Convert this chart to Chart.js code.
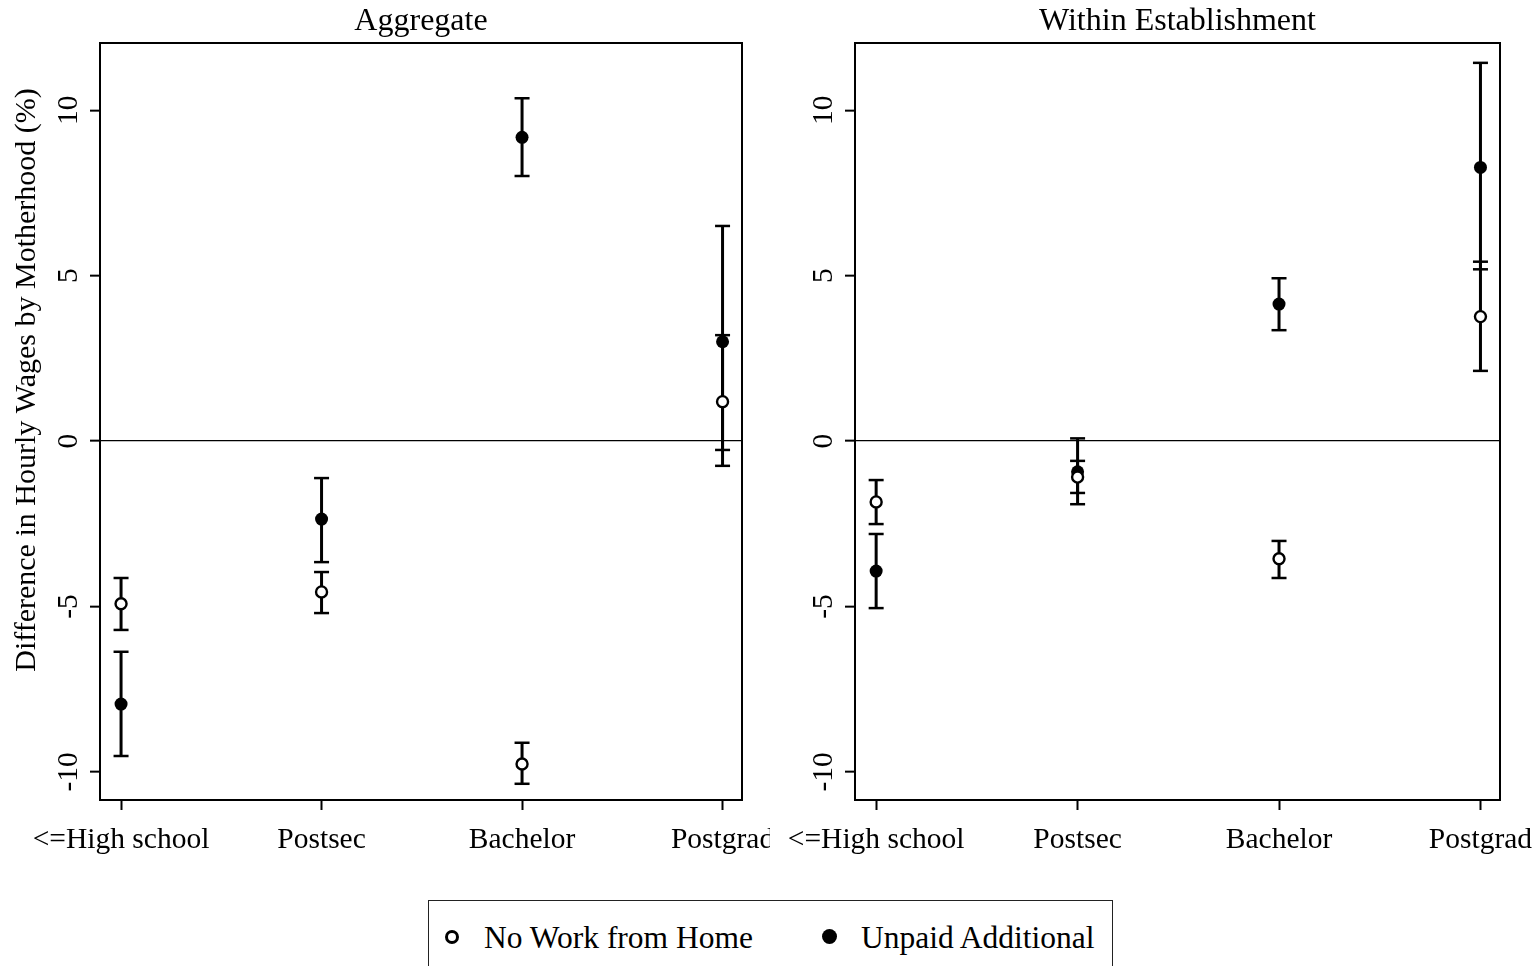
<!DOCTYPE html>
<html>
<head>
<meta charset="utf-8">
<script src="https://cdn.jsdelivr.net/npm/chart.js@4.4.1/dist/chart.umd.min.js"></script>
<style>
  body { margin: 0; background: #fff; width: 1538px; height: 966px; overflow: hidden; position: relative; }
  canvas { position: absolute; top: 0; }
  #legend {
    position: absolute; left: 428px; top: 900px; width: 685px; height: 90px;
    border: 1.5px solid #222; box-sizing: border-box;
    font-family: 'Liberation Serif', 'Times New Roman', serif; font-size: 31.5px; color: #000;
  }
  .item { position: absolute; top: 19px; line-height: 36px; }
  .dot { position: absolute; border-radius: 50%; box-sizing: border-box; }
</style>
</head>
<body>
<canvas id="agg" width="770" height="880" style="left:0"></canvas>
<canvas id="est" width="765" height="880" style="left:773px"></canvas>
<div id="legend">
  <span class="dot" style="left:16px;top:29px;width:14px;height:14px;border:3px solid #000;background:#fff"></span>
  <span class="item" style="left:55px">No Work from Home</span>
  <span class="dot" style="left:393px;top:28px;width:15px;height:15px;background:#000"></span>
  <span class="item" style="left:432px">Unpaid Additional</span>
</div>
<script>
const categories = ['<=High school', 'Postsec', 'Bachelor', 'Postgrad'];
const yTicks = [-10, -5, 0, 5, 10];

// Aggregate
const aggNoWfh = [-4.92, -4.56, -9.76, 1.19];
const aggNoWfhLo = [-5.71, -5.20, -10.36, -0.75];
const aggNoWfhHi = [-4.14, -3.96, -9.12, 3.20];
const aggUnpaid = [-7.95, -2.36, 9.18, 3.00];
const aggUnpaidLo = [-9.52, -3.66, 8.01, -0.27];
const aggUnpaidHi = [-6.37, -1.12, 10.36, 6.50];

// Within establishment
const estNoWfh = [-1.84, -1.09, -3.56, 3.76];
const estNoWfhLo = [-2.51, -1.57, -4.14, 2.12];
const estNoWfhHi = [-1.18, -0.60, -3.02, 5.42];
const estUnpaid = [-3.93, -0.93, 4.14, 8.27];
const estUnpaidLo = [-5.05, -1.91, 3.35, 5.19];
const estUnpaidHi = [-2.81, 0.08, 4.92, 11.43];

const yLabel = 'Difference in Hourly Wages by Motherhood (%)';
const serif = "'Liberation Serif', 'Times New Roman', serif";

const points = vals => vals.map((v, i) => ({ x: i + 1, y: v }));
// lo, hi, gap for each category so each interval is its own segment
const whiskers = (lo, hi) => lo.flatMap((v, i) => [{ x: i + 1, y: v }, { x: i + 1, y: hi[i] }, { x: i + 1, y: null }]);

const frame = {
  id: 'frame',
  beforeDatasetsDraw(chart) {
    const a = chart.chartArea, ctx = chart.ctx;
    ctx.save();
    ctx.strokeStyle = '#000';
    ctx.lineWidth = 2;
    ctx.strokeRect(a.left, a.top, a.right - a.left, a.bottom - a.top);
    ctx.restore();
  }
};

// y title sits a bit above the plot centre in the original, so draw it by hand
const yTitle = {
  id: 'yTitle',
  afterDraw(chart, args, opts) {
    if (!opts.text) return;
    const ctx = chart.ctx;
    ctx.save();
    ctx.translate(27, 380);
    ctx.rotate(-Math.PI / 2);
    ctx.font = '30px ' + serif;
    ctx.fillStyle = '#000';
    ctx.textAlign = 'center';
    ctx.textBaseline = 'middle';
    ctx.fillText(opts.text, 0, 0);
    ctx.restore();
  }
};

function makePanel(id, title, noWfh, noLo, noHi, unpaid, unLo, unHi, yWidth, padRight, yText) {
  const whisk = {
    type: 'scatter', showLine: true, spanGaps: false,
    borderColor: '#000', borderWidth: 3,
    pointStyle: 'line', pointRadius: 7.5, pointBorderWidth: 2.5, pointBorderColor: '#000',
    order: 2
  };
  new Chart(document.getElementById(id), {
    type: 'scatter',
    data: {
      datasets: [
        { label: 'No Work from Home', data: points(noWfh), pointStyle: 'circle', pointRadius: 5.5,
          pointBorderWidth: 2.4, pointBorderColor: '#000', pointBackgroundColor: '#fff', order: 0 },
        { label: 'Unpaid Additional', data: points(unpaid), pointStyle: 'circle', pointRadius: 6.5,
          pointBorderWidth: 0, pointBackgroundColor: '#000', order: 1 },
        Object.assign({ label: 'ci1', data: whiskers(unLo, unHi) }, whisk),
        Object.assign({ label: 'ci2', data: whiskers(noLo, noHi) }, whisk)
      ]
    },
    options: {
      responsive: false,
      animation: false,
      layout: { padding: { top: 0, right: padRight, bottom: 0, left: 0 } },
      plugins: {
        legend: { display: false },
        tooltip: { enabled: false },
        yTitle: { text: yText },
        title: {
          display: true, text: title, color: '#000', fullSize: false,
          font: { family: serif, size: 32, weight: 'normal', lineHeight: 1 },
          padding: { top: 6, bottom: 5 }
        }
      },
      scales: {
        x: {
          type: 'linear', min: 0.895, max: 4.097,
          border: { display: false },
          grid: { drawOnChartArea: false, tickLength: 10, tickColor: '#000', tickWidth: 2 },
          ticks: {
            color: '#000', autoSkip: false, maxRotation: 0, padding: 13,
            font: { family: serif, size: 29.5 },
            callback: v => categories[v - 1]
          },
          afterBuildTicks: s => { s.ticks = categories.map((c, i) => ({ value: i + 1 })); },
          afterFit: s => { s.height = 80; s.paddingLeft = 0; s.paddingRight = 0; }
        },
        y: {
          min: -10.85, max: 12.03,
          border: { display: false },
          grid: {
            drawOnChartArea: true, tickLength: 10, tickColor: '#000', tickWidth: 2,
            color: c => (c.tick && c.tick.value === 0 ? '#000' : 'rgba(0,0,0,0)'), lineWidth: 1.3
          },
          ticks: {
            color: '#000', autoSkip: false, minRotation: 90, maxRotation: 90,
            crossAlign: 'center', padding: 1,
            font: { family: serif, size: 29.5 }
          },
          afterBuildTicks: s => { s.ticks = yTicks.map(v => ({ value: v })); },
          afterFit: s => { s.width = yWidth; }
        }
      }
    },
    plugins: [frame, yTitle]
  });
}

makePanel('agg', 'Aggregate', aggNoWfh, aggNoWfhLo, aggNoWfhHi, aggUnpaid, aggUnpaidLo, aggUnpaidHi,
  100, 28, yLabel);
makePanel('est', 'Within Establishment', estNoWfh, estNoWfhLo, estNoWfhHi, estUnpaid, estUnpaidLo, estUnpaidHi,
  82, 38, null);
</script>
</body>
</html>
